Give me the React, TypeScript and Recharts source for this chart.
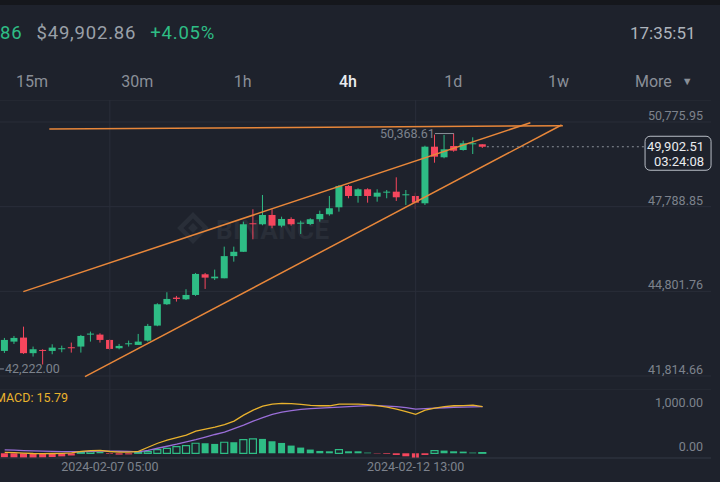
import React from 'react';
import { ComposedChart, Bar, Line, XAxis, YAxis, CartesianGrid, ReferenceLine, ReferenceDot, Cell } from 'recharts';

// 4h candles, first one is 2024-02-05 09:00
const opens = [42700, 43028, 43170, 42620, 42734, 42699, 42770, 42829, 42853, 43275, 43275, 43087, 42794, 42934, 42911, 43063, 43593, 44346, 44579, 44522, 44674, 45403, 45262, 45262, 46044, 46197, 47203, 47168, 47496, 47119, 47355, 47189, 47178, 47344, 47520, 47767, 48519, 48166, 48402, 48142, 48283, 48318, 48190, 48166, 47908, 49905, 49531, 49929, 49788, 49990, 49990];
const highs = [43158, 43228, 43556, 42853, 42758, 42934, 42886, 42993, 43264, 43381, 43322, 43111, 42946, 43063, 43299, 43652, 44381, 44769, 44639, 44876, 45450, 45450, 45568, 46378, 46378, 47260, 47697, 48201, 47697, 47436, 47414, 47295, 47379, 47648, 48166, 48554, 48554, 48437, 48437, 48402, 48377, 48825, 48377, 48283, 49940, 50330, 50320, 50368.61, 50117, 50236, 49990];
const lows = [42628, 42946, 42594, 42500, 42222, 42582, 42652, 42640, 42640, 43028, 42993, 42734, 42758, 42853, 42911, 43028, 43570, 44322, 44440, 44498, 44639, 44886, 45203, 45262, 45849, 46191, 46638, 47132, 47027, 47062, 47119, 46826, 47143, 47260, 47471, 47613, 48085, 47930, 47930, 47965, 48085, 47990, 47848, 47697, 47848, 49340, 49496, 49729, 49764, 49647, 49860];
const closes = [43087, 43158, 42620, 42759, 42699, 42816, 42794, 42794, 43228, 43311, 43087, 42770, 42876, 42969, 43028, 43581, 44346, 44533, 44533, 44674, 45415, 45285, 45320, 46044, 46197, 47168, 47168, 47496, 47119, 47355, 47168, 47224, 47344, 47531, 47732, 48519, 48166, 48402, 48166, 48283, 48318, 48120, 48226, 47930, 49905, 49553, 49813, 49764, 50025, 50025, 49902.51];

// MACD pane
const difValues = [20, 15, 5, -5, -8, -5, 0, 10, 45, 60, 65, 40, 25, 25, 45, 136, 227, 295, 352, 409, 500, 545, 590, 648, 727, 864, 977, 1068, 1114, 1130, 1125, 1107, 1084, 1075, 1075, 1114, 1114, 1114, 1102, 1080, 1045, 1000, 943, 880, 977, 1023, 1057, 1075, 1080, 1091, 1057];
const deaValues = [75, 70, 62, 55, 48, 42, 38, 36, 38, 42, 47, 48, 46, 44, 34, 68, 114, 159, 205, 257, 307, 364, 425, 477, 557, 636, 727, 807, 880, 932, 966, 993, 1011, 1023, 1034, 1045, 1057, 1068, 1080, 1080, 1068, 1057, 1034, 1000, 1011, 1023, 1030, 1041, 1045, 1052, 1057];
const histValues = [-90, -95, -100, -100, -95, -85, -70, -50, 25, 35, 30, -15, -30, -25, 15, 38, 84, 113, 151, 174, 227, 227, 212, 250, 250, 310, 325, 325, 272, 234, 174, 129, 84, 53, 45, 84, 45, 45, 15, -8, -15, -38, -68, -113, -38, 61, 61, 45, 38, 15, 15.79];

const priceTicks = [41814.66, 44801.76, 47788.85, 50775.95];
const macdTicks = [0, 1000];
const dateTicks = [11, 43];
const dateLabels = ['2024-02-07 05:00', '2024-02-12 13:00'];
const intervals = ['15m', '30m', '1h', '4h', '1d', '1w', 'More'];
const activeInterval = '4h';

const headerPrice = 49902.86;
const changePct = 4.05;
const clock = '17:35:51';
const countdown = '03:24:08';
const highMark = { i: 47, price: 50368.61 };
const lowMark = { i: 4, price: 42222.0 };

// hand-drawn lines: [startIndex, startPrice, endIndex, endPrice]
const topLine = [4.67, 50529, 58.4, 50645];
const upperWedge = [1.95, 44791, 55.0, 50751];
const lowerWedge = [8.4, 41793, 58.26, 50670];

const BG = '#1e222c';
const GRID = '#2a2e39';
const GREEN = '#2ebd85';
const RED = '#f6465d';
const ORANGE = '#e8873a';
const MUTED = '#7d828c';
const YELLOW = '#e9b22d';
const PURPLE = '#9a6ed8';
const FONT = 'Roboto, "Noto Sans", sans-serif';

const X_DOMAIN = [-0.49, 73.9];

const candles = opens.map((o, i) => ({
  i,
  open: o,
  high: highs[i],
  low: lows[i],
  close: closes[i],
  dif: difValues[i],
  dea: deaValues[i],
  hist: histValues[i],
}));

const fmt = (v: number) => v.toLocaleString('en-US', { minimumFractionDigits: 2, maximumFractionDigits: 2 });
const lastClose = closes[closes.length - 1];

const Candle = (props: any) => {
  const { x, y, width, height, payload } = props;
  const { open, close, high, low } = payload;
  const color = close >= open ? GREEN : RED;
  const top = Math.min(y, y + height);
  const span = Math.abs(height);
  const k = span / (high - low);
  const yo = top + (high - open) * k;
  const yc = top + (high - close) * k;
  const cx = x + width / 2;
  return (
    <g>
      <line x1={cx} x2={cx} y1={top} y2={top + span} stroke={color} strokeWidth={1} />
      <rect x={x} y={Math.min(yo, yc)} width={width} height={Math.max(1, Math.abs(yo - yc))} fill={color} />
    </g>
  );
};

const AxisTick = (props: any) => {
  const { x, y, payload } = props;
  return (
    <text x={x} y={y - 6.5} textAnchor="end" dominantBaseline="central" fill={MUTED} fontSize={12.5} fontFamily={FONT}>
      {fmt(payload.value)}
    </text>
  );
};

const PriceTag = (props: any) => {
  const { viewBox } = props;
  const x = viewBox.x + viewBox.width;
  const y = viewBox.y;
  return (
    <g fontFamily={FONT}>
      <rect x={x} y={y - 10.5} width={66} height={34} rx={5} fill={BG} stroke="#b9bec6" strokeWidth={1} />
      <text x={x + 59} y={y} textAnchor="end" dominantBaseline="central" fill="#eaecef" fontSize={13}>{fmt(lastClose)}</text>
      <text x={x + 59} y={y + 14.5} textAnchor="end" dominantBaseline="central" fill="#eaecef" fontSize={13}>{countdown}</text>
    </g>
  );
};

const HighLabel = (props: any) => {
  const { cx, cy } = props;
  return (
    <g>
      <line x1={cx - 19} x2={cx} y1={cy} y2={cy} stroke="#8a8f98" strokeWidth={1} />
      <text x={cx - 19} y={cy} textAnchor="end" dominantBaseline="central" fill={MUTED} fontSize={12.5} fontFamily={FONT}>
        {fmt(highMark.price)}
      </text>
    </g>
  );
};

const LowLabel = (props: any) => {
  const { cx, cy } = props;
  return (
    <g>
      <line x1={cx - 44} x2={cx - 39} y1={cy + 4.5} y2={cy + 4.5} stroke="#8a8f98" strokeWidth={1} />
      <text x={cx - 38} y={cy + 4.5} textAnchor="start" dominantBaseline="central" fill={MUTED} fontSize={12.5} fontFamily={FONT}>
        {fmt(lowMark.price)}
      </text>
    </g>
  );
};

const seg = (l: number[]) => [{ x: l[0], y: l[1] }, { x: l[2], y: l[3] }];

const Watermark = () => (
  <svg width={180} height={40} style={{ position: 'absolute', left: 175, top: 210 }}>
    <g fill="#292e38">
      <rect x={9} y={9} width={18} height={18} transform="rotate(45 18 18)" fill="none" stroke="#292e38" strokeWidth={4.5} />
      <rect x={14.5} y={14.5} width={7} height={7} transform="rotate(45 18 18)" />
      <text x={41} y={29} fontSize={26} fontWeight={700} fontFamily={FONT} letterSpacing={0.5}>BINANCE</text>
    </g>
  </svg>
);

export default function App() {
  return (
    <div style={{ position: 'absolute', left: 0, top: 0, width: 720, height: 482, background: BG, overflow: 'hidden', fontFamily: FONT }}>
      <div style={{ position: 'absolute', left: 0, top: 0, width: 720, height: 5, background: '#15171c' }} />
      <div style={{ position: 'absolute', left: -66, top: 21, fontSize: 18.5, lineHeight: '24px', whiteSpace: 'nowrap', letterSpacing: 0.8 }}>
        <span style={{ color: GREEN }}>{fmt(headerPrice)}</span>
        <span style={{ color: '#9aa0a8', marginLeft: 14 }}>${fmt(headerPrice)}</span>
        <span style={{ color: GREEN, marginLeft: 14 }}>+{changePct.toFixed(2)}%</span>
      </div>
      <div style={{ position: 'absolute', left: 630, top: 21, fontSize: 17, lineHeight: '24px', color: '#aeb4bc' }}>{clock}</div>
      {intervals.map((t, k) => (
        <div
          key={t}
          style={{
            position: 'absolute',
            left: k * 105.3 - 20.6,
            width: 105.3,
            top: 72,
            fontSize: 16,
            lineHeight: '20px',
            textAlign: 'center',
            color: t === activeInterval ? '#eaecef' : '#8a8f98',
            fontWeight: t === activeInterval ? 500 : 400,
          }}
        >
          {t}
          {t === 'More' ? <span style={{ fontSize: 11, marginLeft: 10, verticalAlign: 2 }}>▼</span> : null}
        </div>
      ))}

      <Watermark />

      <div style={{ position: 'absolute', left: 0, top: 100 }}>
        <ComposedChart width={720} height={290} data={candles} margin={{ top: 0, right: 9, bottom: 0, left: 0 }}>
          <CartesianGrid vertical={false} stroke={GRID} />
          <XAxis type="number" dataKey="i" domain={X_DOMAIN} hide allowDataOverflow />
          <YAxis
            orientation="right"
            mirror
            domain={[41320.7, 51552.1]}
            ticks={priceTicks}
            allowDataOverflow
            axisLine={false}
            tickLine={false}
            tickSize={0}
            tickMargin={8}
            tick={<AxisTick />}
          />
          {dateTicks.map((d) => (
            <ReferenceLine key={d} x={d} stroke={GRID} />
          ))}
          <Bar dataKey={(d: any) => [d.low, d.high]} barSize={7} shape={<Candle />} isAnimationActive={false} />
          <ReferenceLine segment={seg(topLine)} stroke={ORANGE} strokeWidth={1.5} ifOverflow="visible" />
          <ReferenceLine segment={seg(upperWedge)} stroke={ORANGE} strokeWidth={1.5} ifOverflow="visible" />
          <ReferenceLine segment={seg(lowerWedge)} stroke={ORANGE} strokeWidth={1.5} ifOverflow="visible" />
          <ReferenceLine
            segment={[{ x: 50.45, y: lastClose }, { x: 67, y: lastClose }]}
            stroke="#8a8f98"
            strokeDasharray="2 3"
            ifOverflow="visible"
            label={<PriceTag />}
          />
          <ReferenceDot x={highMark.i} y={highMark.price} r={0} shape={<HighLabel />} />
          <ReferenceDot x={lowMark.i} y={lowMark.price} r={0} shape={<LowLabel />} />
        </ComposedChart>
      </div>

      <div style={{ position: 'absolute', left: -5, top: 391, fontSize: 12.5, lineHeight: '14px', color: YELLOW, whiteSpace: 'nowrap' }}>
        MACD: {histValues[histValues.length - 1].toFixed(2)}
      </div>

      <div style={{ position: 'absolute', left: 0, top: 390 }}>
        <ComposedChart width={720} height={92} data={candles} margin={{ top: 0, right: 9, bottom: 0, left: 0 }}>
          <XAxis
            type="number"
            dataKey="i"
            domain={X_DOMAIN}
            ticks={dateTicks}
            interval={0}
            allowDataOverflow
            height={24}
            axisLine={{ stroke: '#333845' }}
            tickLine={false}
            tickSize={0}
            tickMargin={4}
            tick={{ fill: MUTED, fontSize: 12.5, fontFamily: FONT }}
            tickFormatter={(v: number) => dateLabels[dateTicks.indexOf(v)]}
          />
          <YAxis
            orientation="right"
            mirror
            domain={[-106.8, 1431.8]}
            ticks={macdTicks}
            allowDataOverflow
            axisLine={false}
            tickLine={false}
            tickSize={0}
            tickMargin={8}
            tick={<AxisTick />}
          />
          {dateTicks.map((d) => (
            <ReferenceLine key={d} x={d} stroke={GRID} />
          ))}
          <Bar dataKey="hist" barSize={7} isAnimationActive={false}>
            {candles.map((c, k) => {
              const prev = k > 0 ? histValues[k - 1] : 0;
              const color = c.hist >= 0 ? GREEN : RED;
              const hollow = c.hist > 0 && c.hist > prev;
              return <Cell key={k} fill={hollow ? BG : color} stroke={color} strokeWidth={hollow ? 1.2 : 0} />;
            })}
          </Bar>
          <Line dataKey="dea" stroke={PURPLE} strokeWidth={1.3} dot={false} isAnimationActive={false} />
          <Line dataKey="dif" stroke={YELLOW} strokeWidth={1.3} dot={false} isAnimationActive={false} />
        </ComposedChart>
      </div>
    </div>
  );
}
